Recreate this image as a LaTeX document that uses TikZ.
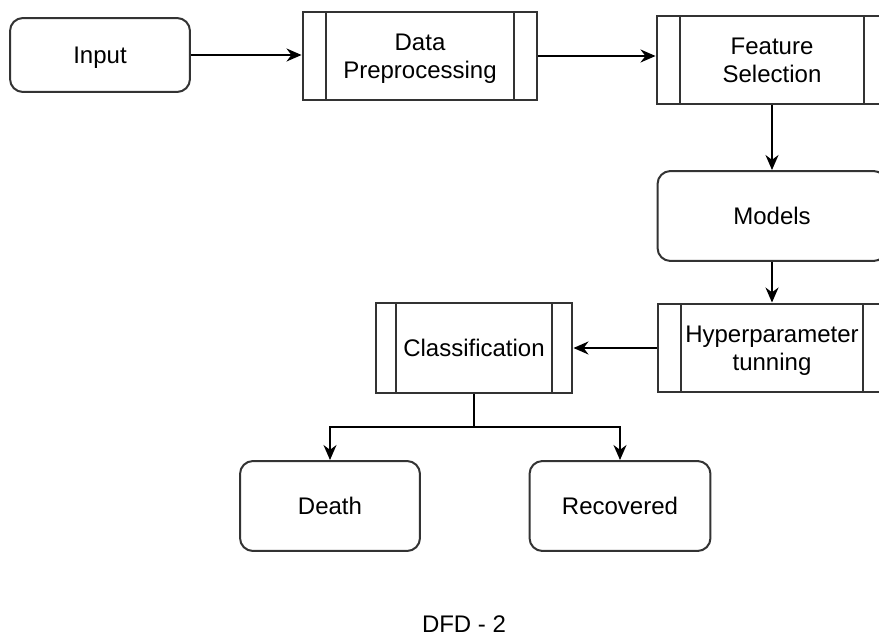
\documentclass[tikz,border=0pt]{standalone}
\usepackage{fontspec}
\setmainfont{Liberation Sans}
\usetikzlibrary{arrows.meta}

\begin{document}
\begin{tikzpicture}[x=0.02cm, y=-0.02cm,
    every node/.style={font=\fontsize{13.66}{15.9}\selectfont, align=center, text depth=0pt},
    termbox/.style={draw=black!80, line width=0.4mm, rounded corners=0.26cm, minimum width=3.6cm, minimum height=1.8cm},
    procbox/.style={draw=black!80, line width=0.4mm, minimum height=1.78cm,
      path picture={
        \draw[black!80, line width=0.4mm] ([xshift=#1]path picture bounding box.north west) -- ([xshift=#1]path picture bounding box.south west);
        \draw[black!80, line width=0.4mm] ([xshift=-#1]path picture bounding box.north east) -- ([xshift=-#1]path picture bounding box.south east);
      }},
    flow/.style={-{Stealth[length=0.3cm, width=0.26cm]}, line width=0.4mm, black}]
  \clip (0,0) rectangle (879,635);
  \fill[white] (0,0) rectangle (879,635);
  % top row
  \node[termbox, minimum height=1.48cm] (input) at (100,55) {Input};
  \node[procbox=0.47cm, minimum width=4.7cm, minimum height=1.76cm] (prep) at (420,56) {Data\\Preprocessing};
  \node[procbox=0.46cm, minimum width=4.62cm, minimum height=1.76cm] (feat) at (772,60) {Feature\\Selection};
  % right column
  \node[termbox, minimum width=4.58cm] (models) at (772,216) {Models};
  \node[procbox=0.46cm, minimum width=4.58cm] (hyper) at (772,348) {Hyperparameter\\tunning};
  \node[procbox=0.4cm, minimum width=3.94cm, minimum height=1.8cm] (class) at (474,348) {Classification};
  % outcomes
  \node[termbox] (death) at (330,506) {Death};
  \node[termbox, minimum width=3.62cm] (recov) at (620,506) {Recovered};
  \node (title) at (464,624) {DFD - 2};
  \coordinate (split) at (474,427);

  \draw[flow] (input.east) -- (input.east -| prep.west);
  \draw[flow] (prep.east) -- (prep.east -| feat.west);
  \draw[flow] (feat.south) -- (models.north);
  \draw[flow] (models.south) -- (hyper.north);
  \draw[flow] (hyper.west) -- (class.east);
  \draw[flow] (class.south) -- (split) -| (death.north);
  \draw[flow] (split) -| (recov.north);
\end{tikzpicture}
\end{document}
